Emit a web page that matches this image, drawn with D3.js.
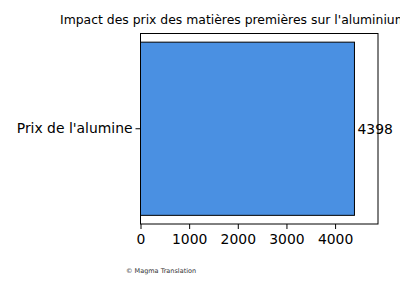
<!DOCTYPE html>
<html>
<head>
<meta charset="utf-8">
<script src="https://cdn.jsdelivr.net/npm/d3@7"></script>
<style>
  body { margin: 0; background: #fff; }
  svg { display: block; font-family: "DejaVu Sans", sans-serif; }
</style>
</head>
<body>
<div id="chart"></div>
<script>
// data
const categories = ["Prix de l'alumine"];
const values = [4398];
const xTicks = [0, 1000, 2000, 3000, 4000];
const title = "Impact des prix des matières premières sur l'aluminium";

const width = 400, height = 300;
const margin = {top: 33.5, right: 22, bottom: 76, left: 140.5};
const w = width - margin.left - margin.right;
const h = height - margin.top - margin.bottom;

const svg = d3.select("#chart").append("svg")
  .attr("width", width)
  .attr("height", height);

const x = d3.scaleLinear().domain([0, 4882]).range([0, w]);
const y = d3.scaleBand().domain(categories).range([0, h]).paddingInner(0).paddingOuter(0.05);

const g = svg.append("g").attr("transform", "translate(" + margin.left + "," + margin.top + ")");

// bars
g.selectAll(".bar")
  .data(values)
  .enter().append("rect")
  .attr("class", "bar")
  .attr("x", x(0))
  .attr("y", (d, i) => y(categories[i]))
  .attr("width", d => x(d) - x(0))
  .attr("height", y.bandwidth())
  .attr("fill", "#4a90e2")
  .attr("stroke", "#000")
  .attr("stroke-width", 1);

// value labels
g.selectAll(".val")
  .data(values)
  .enter().append("text")
  .attr("x", d => x(d) + 3)
  .attr("y", (d, i) => y(categories[i]) + y.bandwidth() / 2)
  .attr("dy", "0.35em")
  .attr("font-size", 13.9)
  .attr("fill", "#000")
  .text(d => d);

// frame
g.append("rect")
  .attr("width", w).attr("height", h)
  .attr("fill", "none").attr("stroke", "#000").attr("stroke-width", 1);

// axes
const xAxis = g.append("g")
  .attr("transform", "translate(0," + h + ")")
  .call(d3.axisBottom(x).tickValues(xTicks).tickFormat(d3.format("d")).tickSize(5).tickPadding(5).tickSizeOuter(0));
xAxis.select(".domain").remove();
xAxis.selectAll("text").attr("font-size", 13.9).attr("font-family", "DejaVu Sans").attr("fill", "#000");

const yAxis = g.append("g")
  .call(d3.axisLeft(y).tickSize(5).tickPadding(3).tickSizeOuter(0));
yAxis.select(".domain").remove();
yAxis.selectAll("text").attr("font-size", 13.9).attr("font-family", "DejaVu Sans").attr("fill", "#000");

// title
svg.append("text")
  .attr("x", 60)
  .attr("y", 24)
  .attr("font-size", 12.4)
  .attr("fill", "#000")
  .text(title);

// footer
svg.append("text")
  .attr("x", 126)
  .attr("y", 273)
  .attr("font-size", 6.5)
  .attr("fill", "#333")
  .text("© Magma Translation");
</script>
</body>
</html>
